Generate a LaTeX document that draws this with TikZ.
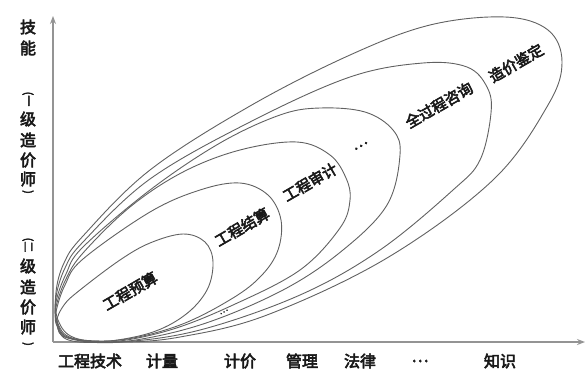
\documentclass[tikz,border=0pt]{standalone}
\usepackage{fontspec}
\newfontfamily\cjk[FakeBold=3.5]{Noto Sans CJK SC}
\usetikzlibrary{arrows.meta}
\begin{document}
\begin{tikzpicture}[x=1pt,y=-1pt,
  loopline/.style={draw=black!62, line width=0.9pt},
  axisline/.style={draw=black!42, line width=1.3pt, -{Stealth[length=8pt,width=6pt]}},
  lab/.style={font=\cjk\fontsize{16}{16}\selectfont, text=black!90, inner sep=0pt},
  vlab/.style={font=\cjk\fontsize{16}{16}\selectfont, text=black!90, inner sep=0pt},
  inlab/.style={font=\cjk\fontsize{15}{15}\selectfont, text=black!90, inner sep=0pt, rotate=30}]
\useasboundingbox (0,0) rectangle (585,370);
% axes
\coordinate (O) at (53,342);
\coordinate (Ytip) at (53,16);
\coordinate (Xtip) at (585,342);
\draw[axisline] (O) -- (Ytip);
\draw[axisline] (O) -- (Xtip);
% loops
\draw[loopline] plot[smooth cycle, tension=0.6] coordinates {
 (56,292) (64,263) (83,236) (150,170) (250,106) (350,55) (430,25) (505,17)
 (548,30) (562,62) (548,105) (493,180) (387,258) (267,315) (180,337) (120,342) (75,338) (58,320)};
\draw[loopline] plot[smooth cycle, tension=0.6] coordinates {
 (56,297) (65,268) (83,242) (150,179) (250,122) (350,77) (423,63) (467,67)
 (487,87) (491,113) (480,160) (453,190) (380,250) (300,295) (200,330) (120,342) (72,338) (57,321)};
\draw[loopline] plot[smooth cycle, tension=0.6] coordinates {
 (56,302) (66,274) (83,247) (150,190) (220,143) (280,115) (320,108) (365,112)
 (393,130) (400,155) (387,205) (343,250) (283,290) (200,325) (120,342) (70,338) (57,322)};
\draw[loopline] plot[smooth cycle, tension=0.6] coordinates {
 (56,307) (66,279) (83,253) (130,207) (183,172) (240,150) (297,142) (330,155)
 (346,178) (350,200) (340,228) (300,270) (233,305) (170,330) (110,342) (68,338) (57,324)};
\draw[loopline] plot[smooth cycle, tension=0.6] coordinates {
 (56,312) (65,285) (83,259) (150,212) (200,190) (240,183) (268,195) (281,220)
 (278,250) (262,275) (233,298) (180,325) (120,340) (68,338) (57,326)};
\draw[loopline] plot[smooth cycle, tension=0.6] coordinates {
 (57,322) (64,305) (80,290) (120,260) (150,243) (183,234) (205,242) (213,262)
 (207,290) (185,315) (150,333) (100,342) (66,339)};
% labels inside
\node[inlab] (ysu) at (130,291) {工程预算};
\node[inlab] (jsu) at (242,227) {工程结算};
\node[inlab] (sji) at (310,182) {工程审计};
\node[inlab] (dt1) at (361,146) {…};
\node[inlab] (qgc) at (439,105) {全过程咨询};
\node[inlab] (jdi) at (516,63) {造价鉴定};
\node[inlab, font=\cjk\fontsize{9}{9}\selectfont] (dt2) at (224,312) {…};
% x labels
\node[lab] (x1) at (90,361) {工程技术};
\node[lab] (x2) at (162,361) {计量};
\node[lab] (x3) at (240,361) {计价};
\node[lab] (x4) at (302,361) {管理};
\node[lab] (x5) at (360,361) {法律};
\node[lab] (x6) at (420,361) {…};
\node[lab] (x7) at (500,361) {知识};
% y labels
\node[vlab] (y1) at (28,27) {技};
\node[vlab] (y2) at (28,48) {能};
\node[vlab, rotate=-90, font=\cjk\fontsize{11}{11}\selectfont] (a0) at (28,99) {(一};
\node[vlab] (a1) at (28,119) {级};
\node[vlab] (a2) at (28,140) {造};
\node[vlab] (a3) at (28,160) {价};
\node[vlab] (a4) at (28,179) {师};
\node[vlab, rotate=-90, font=\cjk\fontsize{11}{11}\selectfont] (a5) at (28,192) {)};
\node[vlab, rotate=-90, font=\cjk\fontsize{11}{11}\selectfont] (b0) at (28,245) {(二};
\node[vlab] (b1) at (28,266) {级};
\node[vlab] (b2) at (28,287) {造};
\node[vlab] (b3) at (28,307) {价};
\node[vlab] (b4) at (28,327) {师};
\node[vlab, rotate=-90, font=\cjk\fontsize{11}{11}\selectfont] (b5) at (28,344) {)};
\end{tikzpicture}
\end{document}
